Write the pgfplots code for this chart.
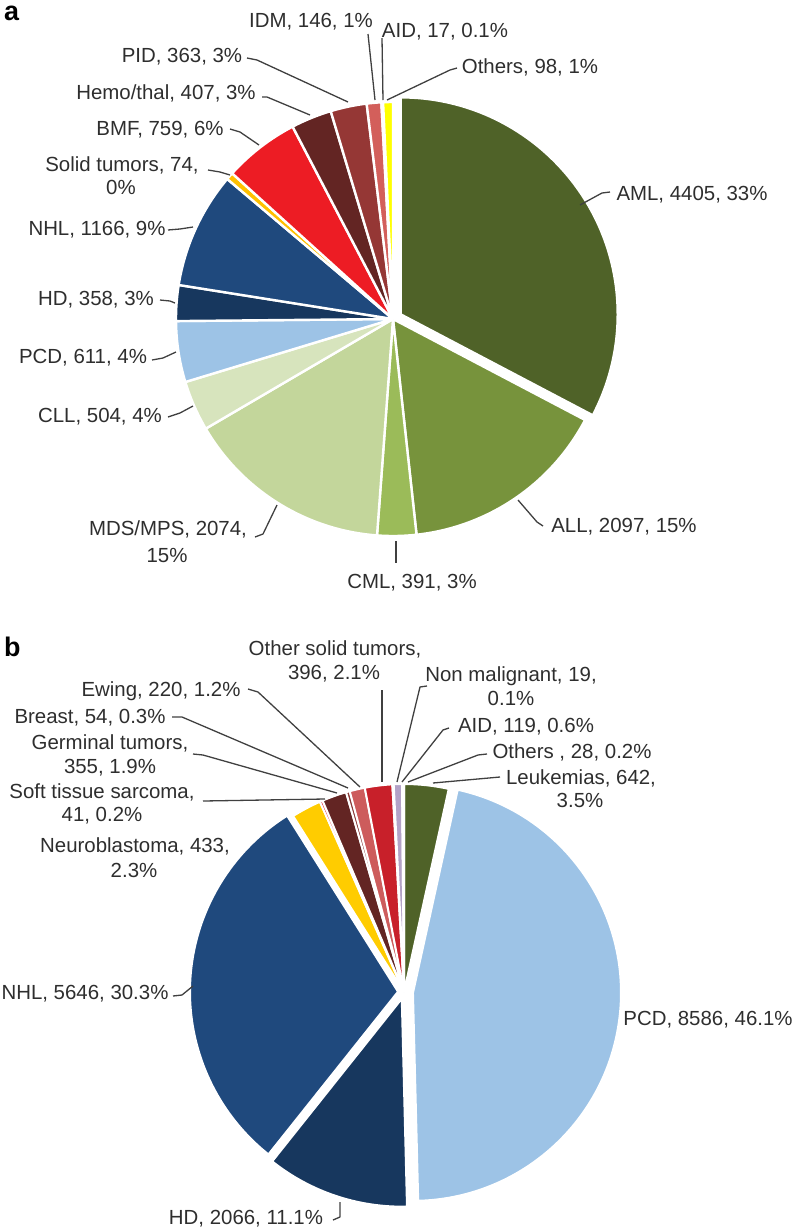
\documentclass[border=0pt]{standalone}
\usepackage{pgfplots}
\pgfplotsset{compat=1.18}
\usepackage{pgfplotstable}
\usepackage{fontspec}
\setmainfont{Liberation Sans}

% colours
\definecolor{cAML}{HTML}{4F6228}
\definecolor{cALL}{HTML}{77933C}
\definecolor{cCML}{HTML}{9BBB59}
\definecolor{cMDS}{HTML}{C3D69B}
\definecolor{cCLL}{HTML}{D7E4BD}
\definecolor{cPCD}{HTML}{9DC3E6}
\definecolor{cHD}{HTML}{17375E}
\definecolor{cNHL}{HTML}{1F497D}
\definecolor{cSolid}{HTML}{FFC000}
\definecolor{cBMF}{HTML}{ED1C24}
\definecolor{cHemo}{HTML}{632523}
\definecolor{cPID}{HTML}{953735}
\definecolor{cIDM}{HTML}{D35F5B}
\definecolor{cAIDa}{HTML}{F2C4C4}
\definecolor{cOthA}{HTML}{FFFF00}
\definecolor{cLeuk}{HTML}{4F6228}
\definecolor{cNeuro}{HTML}{FFCC00}
\definecolor{cSoft}{HTML}{E3262B}
\definecolor{cGerm}{HTML}{632523}
\definecolor{cBreast}{HTML}{8B3A38}
\definecolor{cEwing}{HTML}{CD5C5C}
\definecolor{cOthSol}{HTML}{C8202A}
\definecolor{cNonMal}{HTML}{FFC000}
\definecolor{cAIDb}{HTML}{B3A2C7}
\definecolor{cOthB}{HTML}{B9CDE5}
\definecolor{leadc}{HTML}{404040}

% data: panel a
\pgfplotstableread{
label value col explode
AML 4405 cAML 9
ALL 2097 cALL 0
CML 391 cCML 0
MDS/MPS 2074 cMDS 0
CLL 504 cCLL 0
PCD 611 cPCD 0
HD 358 cHD 0
NHL 1166 cNHL 0
Solid 74 cSolid 0
BMF 759 cBMF 0
Hemo/thal 407 cHemo 0
PID 363 cPID 0
IDM 146 cIDM 0
AID 17 cAIDa 0
Others 98 cOthA 0
}\pieA

% data: panel b
\pgfplotstableread{
label value col explode
Leukemias 642 cLeuk 0
PCD 8586 cPCD 9
HD 2066 cHD 7
NHL 5646 cNHL 6
Neuroblastoma 433 cNeuro 0
SoftTissue 41 cSoft 0
Germinal 355 cGerm 0
Breast 54 cBreast 0
Ewing 220 cEwing 0
OtherSolid 396 cOthSol 0
NonMalignant 19 cNonMal 0
AID 119 cAIDb 0
Others 28 cOthB 0
}\pieB

% compute wedge geometry (pixel coordinates, y downward)
% #1 table, #2 prefix, #3 cx, #4 cy, #5 radius
\newcommand\preparepie[5]{%
  \pgfplotstablegetrowsof{#1}%
  \pgfmathtruncatemacro\nrows{\pgfplotsretval-1}%
  \xdef\pietotal{0}%
  \foreach \i in {0,...,\nrows}{%
    \pgfplotstablegetelem{\i}{value}\of{#1}%
    \xdef\pietotal{\fpeval{\pietotal+\pgfplotsretval}}}%
  \xdef\piecum{0}%
  \foreach \i in {0,...,\nrows}{%
    \pgfplotstablegetelem{\i}{value}\of{#1}\let\v\pgfplotsretval
    \pgfplotstablegetelem{\i}{col}\of{#1}\let\c\pgfplotsretval
    \pgfplotstablegetelem{\i}{explode}\of{#1}\let\e\pgfplotsretval
    \edef\s{\fpeval{90-360*\piecum/\pietotal}}%
    \xdef\piecum{\fpeval{\piecum+\v}}%
    \edef\t{\fpeval{90-360*\piecum/\pietotal}}%
    \edef\m{\fpeval{(\s+\t)/2}}%
    \edef\X{\fpeval{#3+\e*cosd(\m)}}%
    \edef\Y{\fpeval{#4-\e*sind(\m)}}%
    \expandafter\xdef\csname #2s\i\endcsname{\s}%
    \expandafter\xdef\csname #2t\i\endcsname{\t}%
    \expandafter\xdef\csname #2X\i\endcsname{\X}%
    \expandafter\xdef\csname #2Y\i\endcsname{\Y}%
    \expandafter\xdef\csname #2PX\i\endcsname{\fpeval{\X+#5*cosd(\s)}}%
    \expandafter\xdef\csname #2PY\i\endcsname{\fpeval{\Y-#5*sind(\s)}}%
    \expandafter\xdef\csname #2c\i\endcsname{\c}%
  }%
}
\preparepie{\pieA}{A}{393}{319}{217}
\preparepie{\pieB}{B}{404}{992}{208}

\begin{document}
\begin{tikzpicture}[
  lab/.style={font=\fontsize{20.5}{24}\selectfont, text=black!82, inner sep=0pt, anchor=base},
  lead/.style={draw=leadc, line width=1.3bp, line join=round},
]
\begin{axis}[
  name=ax,
  x=1bp, y=1bp, y dir=reverse,
  xmin=0, xmax=792, ymin=0, ymax=1230,
  hide axis, clip=false, disabledatascaling,
]
% ---- pie a ----
\pgfplotsinvokeforeach{0,...,14}{%
  \edef\wedge{\noexpand\fill[fill=\csname Ac#1\endcsname, draw=white, line width=2.4bp, line join=round]
    (axis cs:\csname AX#1\endcsname,\csname AY#1\endcsname) --
    (axis cs:\csname APX#1\endcsname,\csname APY#1\endcsname)
    arc[start angle=\csname As#1\endcsname, end angle=\csname At#1\endcsname, radius=217bp] -- cycle;}%
  \wedge
}
% ---- pie b ----
\pgfplotsinvokeforeach{0,...,12}{%
  \edef\wedge{\noexpand\fill[fill=\csname Bc#1\endcsname, draw=white, line width=2bp, line join=round]
    (axis cs:\csname BX#1\endcsname,\csname BY#1\endcsname) --
    (axis cs:\csname BPX#1\endcsname,\csname BPY#1\endcsname)
    arc[start angle=\csname Bs#1\endcsname, end angle=\csname Bt#1\endcsname, radius=208bp] -- cycle;}%
  \wedge
}

% panel letters
\node[anchor=base west, inner sep=0pt, font=\fontsize{27}{30}\selectfont\bfseries] at (axis cs:4,20) {a};
\node[anchor=base west, inner sep=0pt, font=\fontsize{27}{30}\selectfont\bfseries] at (axis cs:4,656) {b};

% ---- labels a ----
\node[lab] at (axis cs:311,27) {IDM, 146, 1\%};
\draw[lead] (axis cs:368,34) -- (axis cs:375,100);
\node[lab] at (axis cs:445,37) {AID, 17, 0.1\%};
\draw[lead] (axis cs:382,38) -- (axis cs:383,100);
\node[lab] at (axis cs:530,73) {Others, 98, 1\%};
\draw[lead] (axis cs:457,68) -- (axis cs:450,70) -- (axis cs:387,100);
\node[lab] at (axis cs:182,62) {PID, 363, 3\%};
\draw[lead] (axis cs:247,58) -- (axis cs:257,60) -- (axis cs:348,102);
\node[lab] at (axis cs:166,99) {Hemo/thal, 407, 3\%};
\draw[lead] (axis cs:262,97) -- (axis cs:267,97) -- (axis cs:310,115);
\node[lab] at (axis cs:160,135) {BMF, 759, 6\%};
\draw[lead] (axis cs:230,129) -- (axis cs:240,132) -- (axis cs:259,145);
\node[lab] at (axis cs:122,171) {Solid tumors, 74,};
\node[lab] at (axis cs:121,194) {0\%};
\draw[lead] (axis cs:208,170) -- (axis cs:220,172) -- (axis cs:230,175);
\node[lab] at (axis cs:97,235) {NHL, 1166, 9\%};
\draw[lead] (axis cs:168,230) -- (axis cs:180,229) -- (axis cs:193,227);
\node[lab] at (axis cs:96,305) {HD, 358, 3\%};
\draw[lead] (axis cs:160,300) -- (axis cs:170,301) -- (axis cs:175,303);
\node[lab] at (axis cs:83,363) {PCD, 611, 4\%};
\draw[lead] (axis cs:152,360) -- (axis cs:163,358) -- (axis cs:176,352);
\node[lab] at (axis cs:100,422) {CLL, 504, 4\%};
\draw[lead] (axis cs:168,417) -- (axis cs:180,413) -- (axis cs:193,406);
\node[lab] at (axis cs:168,535) {MDS/MPS, 2074,};
\node[lab] at (axis cs:167,562) {15\%};
\draw[lead] (axis cs:255,537) -- (axis cs:263,534) -- (axis cs:277,505);
\node[lab] at (axis cs:412,588) {CML, 391, 3\%};
\draw[lead] (axis cs:396,541) -- (axis cs:396,563);
\node[lab] at (axis cs:624,532) {ALL, 2097, 15\%};
\draw[lead] (axis cs:543,526) -- (axis cs:537,522) -- (axis cs:518,500);
\node[lab] at (axis cs:692,200) {AML, 4405, 33\%};
\draw[lead] (axis cs:610,192) -- (axis cs:602,193) -- (axis cs:580,205);

% ---- labels b ----
\node[lab] at (axis cs:335,655) {Other solid tumors,};
\node[lab] at (axis cs:334,679) {396, 2.1\%};
\draw[lead] (axis cs:382,690) -- (axis cs:382,782);
\node[lab] at (axis cs:161,696) {Ewing, 220, 1.2\%};
\draw[lead] (axis cs:248,689) -- (axis cs:258,692) -- (axis cs:360,787);
\node[lab] at (axis cs:90,723) {Breast, 54, 0.3\%};
\draw[lead] (axis cs:172,717) -- (axis cs:182,717) -- (axis cs:348,788);
\node[lab] at (axis cs:110,749) {Germinal tumors,};
\node[lab] at (axis cs:110,773) {355, 1.9\%};
\draw[lead] (axis cs:193,754) -- (axis cs:203,755) -- (axis cs:337,793);
\node[lab] at (axis cs:102,798) {Soft tissue sarcoma,};
\node[lab] at (axis cs:102,821) {41, 0.2\%};
\draw[lead] (axis cs:203,801) -- (axis cs:325,799);
\node[lab] at (axis cs:135,852) {Neuroblastoma, 433,};
\node[lab] at (axis cs:134,877) {2.3\%};
\node[lab] at (axis cs:511,681) {Non malignant, 19,};
\node[lab] at (axis cs:511,705) {0.1\%};
\draw[lead] (axis cs:427,686) -- (axis cs:420,687) -- (axis cs:397,782);
\node[lab] at (axis cs:526,732) {AID, 119, 0.6\%};
\draw[lead] (axis cs:449,728) -- (axis cs:443,730) -- (axis cs:402,782);
\node[lab] at (axis cs:572,758) {Others , 28, 0.2\%};
\draw[lead] (axis cs:487,754) -- (axis cs:478,755) -- (axis cs:408,782);
\node[lab] at (axis cs:581,784) {Leukemias, 642,};
\node[lab] at (axis cs:580,807) {3.5\%};
\draw[lead] (axis cs:500,777) -- (axis cs:433,783);
\node[lab] at (axis cs:85,999) {NHL, 5646, 30.3\%};
\draw[lead] (axis cs:173,996) -- (axis cs:182,995) -- (axis cs:193,986);
\node[lab] at (axis cs:246,1224) {HD, 2066, 11.1\%};
\draw[lead] (axis cs:333,1220) -- (axis cs:340,1217) -- (axis cs:340,1202);
\node[lab] at (axis cs:708,1025) {PCD, 8586, 46.1\%};
\end{axis}
\pgfresetboundingbox
\path (ax.south west) rectangle (ax.north east);
\end{tikzpicture}
\end{document}
